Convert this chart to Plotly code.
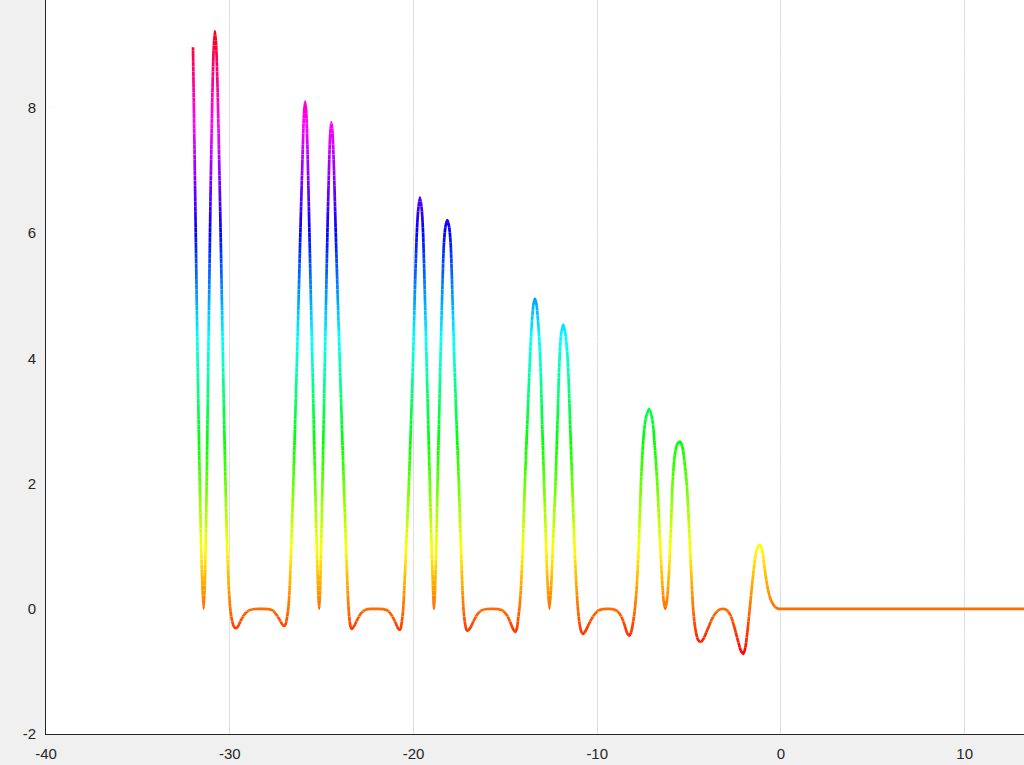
import math
import colorsys
import plotly.graph_objects as go

# ---- data ----
x_vals = [
    -32.00, -31.92, -31.84, -31.76, -31.67, -31.58, -31.50, -31.42, -31.35, -31.28,
    -31.20, -31.12, -31.04, -30.96, -30.88, -30.81, -30.74, -30.66, -30.57, -30.47,
    -30.37, -30.27, -30.16, -30.06, -29.97, -29.88, -29.78, -29.67, -29.55, -29.40,
    -29.20, -28.95, -28.65, -28.27, -27.90, -27.65, -27.42, -27.22, -27.08, -26.98,
    -26.89, -26.80, -26.72, -26.63, -26.54, -26.43, -26.32, -26.22, -26.12, -26.03,
    -25.96, -25.90, -25.84, -25.76, -25.67, -25.58, -25.49, -25.41, -25.33, -25.25,
    -25.18, -25.13, -25.08, -25.02, -24.95, -24.88, -24.81, -24.74, -24.67, -24.60,
    -24.53, -24.47, -24.41, -24.33, -24.23, -24.12, -24.01, -23.90, -23.79, -23.69,
    -23.61, -23.55, -23.49, -23.42, -23.35, -23.22, -23.05, -22.85, -22.60, -22.30,
    -21.99, -21.65, -21.40, -21.15, -20.95, -20.80, -20.72, -20.64, -20.56, -20.48,
    -20.38, -20.25, -20.13, -20.02, -19.93, -19.84, -19.75, -19.65, -19.55, -19.47,
    -19.38, -19.29, -19.20, -19.11, -19.02, -18.94, -18.88, -18.82, -18.75, -18.69,
    -18.61, -18.53, -18.44, -18.34, -18.25, -18.16, -18.07, -17.98, -17.88, -17.78,
    -17.66, -17.53, -17.42, -17.34, -17.28, -17.20, -17.12, -17.04, -16.92, -16.75,
    -16.55, -16.30, -16.00, -15.71, -15.40, -15.15, -14.90, -14.70, -14.55, -14.45,
    -14.37, -14.29, -14.22, -14.13, -14.04, -13.94, -13.80, -13.66, -13.55, -13.46,
    -13.39, -13.31, -13.21, -13.10, -13.00, -12.89, -12.79, -12.70, -12.60, -12.50,
    -12.40, -12.27, -12.16, -12.05, -11.96, -11.85, -11.74, -11.61, -11.48, -11.36,
    -11.25, -11.14, -11.05, -10.96, -10.86, -10.76, -10.63, -10.45, -10.20, -9.95,
    -9.70, -9.42, -9.15, -8.90, -8.68, -8.50, -8.37, -8.26, -8.16, -8.05,
    -7.95, -7.85, -7.74, -7.62, -7.49, -7.35, -7.17, -7.00, -6.87, -6.73,
    -6.60, -6.48, -6.38, -6.30, -6.21, -6.10, -6.00, -5.90, -5.78, -5.64,
    -5.50, -5.36, -5.24, -5.13, -5.00, -4.88, -4.78, -4.66, -4.52, -4.37,
    -4.20, -3.98, -3.75, -3.50, -3.30, -3.14, -2.95, -2.75, -2.55, -2.35,
    -2.18, -2.05, -1.94, -1.82, -1.70, -1.60, -1.51, -1.40, -1.27, -1.14,
    -1.02, -0.92, -0.82, -0.70, -0.56, -0.42, -0.28, -0.12, 0.00, 5.00,
    10.00, 15.00,
]
y_vals = [
    8.97, 7.40, 5.80, 4.20, 2.60, 1.30, 0.45, 0.00, 0.45, 1.50,
    3.20, 5.00, 6.70, 8.00, 8.90, 9.23, 9.00, 8.30, 7.10, 5.60,
    4.00, 2.50, 1.20, 0.40, 0.00, -0.18, -0.28, -0.31, -0.28, -0.19,
    -0.09, -0.025, -0.003, 0.00, -0.004, -0.03, -0.11, -0.21, -0.27, -0.26,
    -0.15, 0.05, 0.45, 1.20, 2.00, 3.10, 4.20, 5.30, 6.40, 7.30,
    7.90, 8.10, 7.95, 7.25, 6.10, 4.90, 3.80, 2.75, 1.75, 0.85,
    0.25, 0.00, 0.30, 1.05, 2.05, 3.10, 4.15, 5.20, 6.20, 7.00,
    7.60, 7.77, 7.62, 7.05, 6.00, 4.95, 3.95, 2.95, 2.00, 1.15,
    0.50, 0.10, -0.15, -0.29, -0.32, -0.27, -0.17, -0.07, -0.015, -0.002,
    0.00, -0.004, -0.03, -0.12, -0.24, -0.33, -0.33, -0.22, 0.00, 0.45,
    1.10, 2.00, 3.00, 4.00, 5.00, 5.85, 6.35, 6.57, 6.38, 5.95,
    5.00, 4.00, 3.00, 2.00, 1.05, 0.35, 0.00, 0.35, 1.10, 2.00,
    3.00, 4.00, 5.00, 5.85, 6.12, 6.21, 6.12, 5.85, 5.00, 4.00,
    3.00, 2.00, 1.00, 0.35, 0.00, -0.22, -0.33, -0.35, -0.31, -0.21,
    -0.10, -0.025, -0.003, 0.00, -0.004, -0.03, -0.11, -0.24, -0.34, -0.37,
    -0.31, -0.13, 0.05, 0.45, 1.10, 2.00, 3.00, 4.00, 4.60, 4.88,
    4.95, 4.87, 4.55, 4.00, 3.00, 2.00, 1.10, 0.40, 0.00, 0.40,
    1.10, 2.00, 3.00, 4.00, 4.40, 4.54, 4.40, 4.00, 3.00, 2.00,
    1.10, 0.40, 0.00, -0.24, -0.37, -0.40, -0.35, -0.24, -0.11, -0.03,
    -0.004, 0.00, -0.005, -0.04, -0.13, -0.27, -0.39, -0.43, -0.38, -0.22,
    0.00, 0.35, 1.00, 2.00, 2.70, 3.05, 3.19, 3.02, 2.60, 2.00,
    1.20, 0.50, 0.12, 0.00, 0.12, 0.55, 1.20, 2.00, 2.45, 2.63,
    2.67, 2.58, 2.32, 2.00, 1.30, 0.55, 0.00, -0.32, -0.49, -0.53,
    -0.47, -0.32, -0.16, -0.05, -0.008, 0.00, -0.02, -0.10, -0.28, -0.50,
    -0.67, -0.72, -0.62, -0.35, 0.00, 0.30, 0.55, 0.82, 0.98, 1.02,
    0.93, 0.72, 0.50, 0.30, 0.15, 0.07, 0.02, 0.00, 0.00, 0.00,
    0.00, 0.00,
]

x_range = [-40, 13.227]
y_range = [-2, 9.725]
x_ticks = [-40, -30, -20, -10, 0, 10]
x_tick_text = ["-40", "-30", "-20", "-10", "0", "10"]
y_ticks = [-2, 0, 2, 4, 6, 8]
y_tick_text = ["-2", "0", "2", "4", "6", "8"]

# ---- figure geometry / style ----
W, H = 1024, 765
M_L, M_R, M_T, M_B = 46, 0, 0, 31
plot_h = H - M_T - M_B
font = dict(family="Liberation Sans, Arial, Helvetica, sans-serif", size=15, color="#262626")
grid_col = "#dfdfdf"
axis_col = "#262626"
line_w = 2.7

cmin, cmax = min(y_vals), max(y_vals)


def hsv_color(v):
    f = (v - cmin) / (cmax - cmin)
    f = min(max(f, 0.0), 1.0) * (63.0 / 64.0)
    r, g, b = colorsys.hsv_to_rgb(f, 1.0, 1.0)
    return "rgb(%d,%d,%d)" % (round(r * 255), round(g * 255), round(b * 255))


fig = go.Figure()
# main subplot carries the visible axes/grid
fig.add_trace(go.Scatter(x=[], y=[], xaxis="x", yaxis="y", showlegend=False, hoverinfo="skip"))

# colour-by-height: the same curve is drawn in thin horizontal bands, each band
# being its own y-axis whose domain/range reproduce the main mapping exactly
span = y_range[1] - y_range[0]
n_bands = 120
step = (cmax - cmin) / n_bands
k_lo = math.floor(cmin / step) - 1
k_hi = math.ceil(cmax / step) + 1
overlap = 0.7 / plot_h
layout_axes = {}
idx = 2
for k in range(k_lo, k_hi + 1):
    lo = (k - 0.5) * step
    hi = (k + 0.5) * step
    if k == k_lo:
        lo = y_range[0]
    if k == k_hi:
        hi = y_range[1]
    d0 = max(0.0, (lo - y_range[0]) / span)
    d1 = min(1.0, (hi - y_range[0]) / span + overlap)
    r0 = y_range[0] + d0 * span
    r1 = y_range[0] + d1 * span
    name = "y%d" % idx
    layout_axes["yaxis%d" % idx] = dict(domain=[d0, d1], range=[r0, r1], visible=False,
                                         showgrid=False, zeroline=False, anchor="x",
                                         fixedrange=True)
    fig.add_trace(go.Scatter(
        x=x_vals, y=y_vals, mode="lines", xaxis="x", yaxis=name,
        line=dict(color=hsv_color(k * step), width=line_w, shape="spline", smoothing=0.8),
        showlegend=False, hoverinfo="skip"))
    idx += 1

fig.update_layout(
    width=W, height=H,
    margin=dict(l=M_L, r=M_R, t=M_T, b=M_B, pad=0, autoexpand=False),
    paper_bgcolor="#f0f0f0",
    plot_bgcolor="#ffffff",
    font=font,
    showlegend=False,
    hovermode=False,
    xaxis=dict(range=x_range, tickmode="array", tickvals=x_ticks, ticktext=x_tick_text,
               showgrid=True, gridcolor=grid_col, gridwidth=1, zeroline=False,
               showline=True, linecolor=axis_col, linewidth=1,
               ticks="inside", ticklen=13, tickcolor=axis_col, tickwidth=1,
               tickfont=font, anchor="y", fixedrange=True, ticklabelstandoff=6),
    yaxis=dict(range=y_range, domain=[0, 1], tickmode="array", tickvals=y_ticks,
               ticktext=y_tick_text,
               showgrid=True, gridcolor=grid_col, gridwidth=1, zeroline=False,
               showline=True, linecolor=axis_col, linewidth=1,
               ticks="inside", ticklen=13, tickcolor=axis_col, tickwidth=1,
               tickfont=font, anchor="x", fixedrange=True, ticklabelstandoff=6),
    **layout_axes,
)

fig.write_html(
    "out.html",
    config={"displayModeBar": False, "staticPlot": True},
    post_script="document.body.style.margin='0';document.body.style.overflow='hidden';",
)
